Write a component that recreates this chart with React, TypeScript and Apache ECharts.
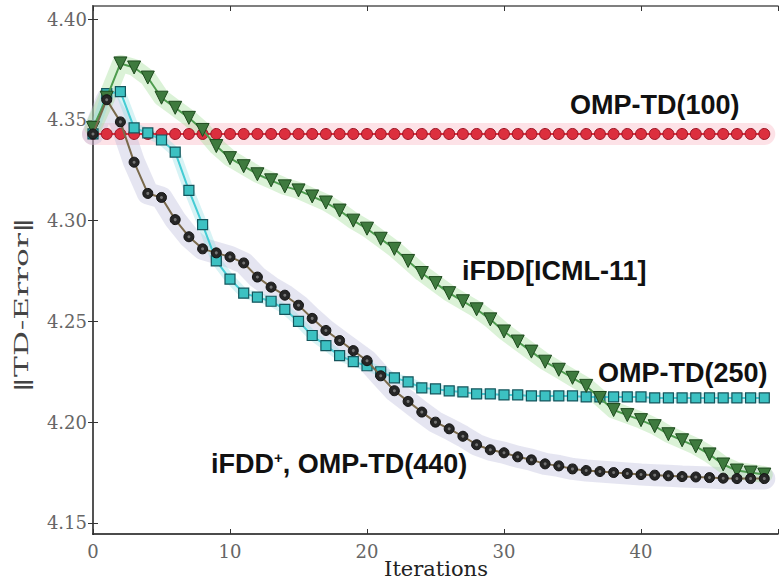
import React, { useEffect, useRef } from "react";
import * as echarts from "echarts";

const iterations: number[] = Array.from({ length: 50 }, (_, i) => i);

const ompTd100: number[] = [
  4.343, 4.343, 4.343, 4.343, 4.343, 4.343, 4.343, 4.343, 4.343, 4.343,
  4.343, 4.343, 4.343, 4.343, 4.343, 4.343, 4.343, 4.343, 4.343, 4.343,
  4.343, 4.343, 4.343, 4.343, 4.343, 4.343, 4.343, 4.343, 4.343, 4.343,
  4.343, 4.343, 4.343, 4.343, 4.343, 4.343, 4.343, 4.343, 4.343, 4.343,
  4.343, 4.343, 4.343, 4.343, 4.343, 4.343, 4.343, 4.343, 4.343, 4.343,
];

const ifddIcml: number[] = [
  4.346, 4.361, 4.378, 4.376, 4.371, 4.361, 4.356, 4.351, 4.345, 4.337,
  4.331, 4.327, 4.323, 4.32, 4.317, 4.315, 4.312, 4.309, 4.305, 4.3,
  4.296, 4.291, 4.286, 4.28, 4.274, 4.269, 4.264, 4.26, 4.256, 4.251,
  4.245, 4.24, 4.235, 4.23, 4.226, 4.222, 4.218, 4.212, 4.206, 4.2035,
  4.201, 4.198, 4.194, 4.191, 4.188, 4.184, 4.179, 4.176, 4.175, 4.174,
];

const ompTd250: number[] = [
  4.343, 4.363, 4.364, 4.346, 4.3435, 4.34, 4.334, 4.315, 4.298, 4.28,
  4.271, 4.264, 4.262, 4.26, 4.256, 4.25, 4.243, 4.238, 4.233, 4.23,
  4.228, 4.225, 4.222, 4.22, 4.217, 4.2165, 4.2155, 4.215, 4.214, 4.214,
  4.2135, 4.2135, 4.213, 4.213, 4.213, 4.213, 4.2125, 4.2125, 4.2125, 4.2125,
  4.2125, 4.212, 4.212, 4.212, 4.212, 4.212, 4.212, 4.212, 4.212, 4.212,
];

const ompTd440: number[] = [
  4.343, 4.36, 4.349, 4.329, 4.3135, 4.3115, 4.3005, 4.292, 4.286, 4.284,
  4.282, 4.279, 4.272, 4.267, 4.263, 4.258, 4.2515, 4.2455, 4.2405, 4.2355,
  4.2305, 4.223, 4.2156, 4.2103, 4.205, 4.2, 4.1967, 4.193, 4.1888, 4.1863,
  4.1848, 4.1828, 4.1813, 4.1793, 4.1783, 4.1768, 4.176, 4.1755, 4.175, 4.1745,
  4.174, 4.1737, 4.1734, 4.173, 4.1728, 4.1725, 4.1722, 4.172, 4.172, 4.172,
];

const yTicks: number[] = [4.15, 4.2, 4.25, 4.3, 4.35, 4.4];
const xTicks: number[] = [0, 10, 20, 30, 40];

const pts = (vals: number[]) => vals.map((v, i) => [iterations[i], v]);

export default function App() {
  const ref = useRef<HTMLDivElement>(null);
  useEffect(() => {
    document.body.style.margin = "0";
    if (!ref.current) return;
    const chart = echarts.init(ref.current, null, { renderer: "svg" });

    const band = (vals: number[], color: string, width: number) => ({
      type: "line",
      data: pts(vals),
      symbol: "none",
      silent: true,
      lineStyle: { color, width, cap: "round", join: "round" },
      z: 1,
    });

    const labelStyle = {
      fontFamily: "Liberation Sans, Arial, sans-serif",
      fontWeight: "bold",
      fontSize: 27,
      fill: "#111",
    };

    chart.setOption({
      animation: false,
      backgroundColor: "#ffffff",
      grid: { left: 93, right: 2, top: 6, bottom: 50, containLabel: false },
      xAxis: [
        {
          type: "value",
          min: 0,
          max: 50,
          interval: 10,
          position: "bottom",
          axisLine: { show: true, lineStyle: { color: "#111", width: 1.5 } },
          axisTick: { show: true, inside: true, length: 5, lineStyle: { color: "#333" } },
          axisLabel: {
            show: true,
            margin: 8,
            color: "#666",
            fontFamily: "DejaVu Serif, serif",
            fontSize: 18,
            customValues: xTicks,
          },
          splitLine: { show: false },
        },
        {
          type: "value",
          min: 0,
          max: 50,
          interval: 10,
          position: "top",
          axisLine: { show: true, lineStyle: { color: "#555", width: 1.5 } },
          axisTick: { show: true, inside: true, length: 5, lineStyle: { color: "#333" } },
          axisLabel: { show: false },
          splitLine: { show: false },
        },
      ],
      yAxis: [
        {
          type: "value",
          min: 4.1445,
          max: 4.4065,
          position: "left",
          axisLine: { show: true, lineStyle: { color: "#555", width: 2 } },
          axisTick: { show: true, inside: true, length: 5, customValues: yTicks, lineStyle: { color: "#333" } },
          axisLabel: {
            show: true,
            margin: 6,
            color: "#666",
            fontFamily: "DejaVu Serif, serif",
            fontSize: 18,
            customValues: yTicks,
            formatter: (v: number) => v.toFixed(2),
          },
          splitLine: { show: false },
        },
        {
          type: "value",
          min: 4.1445,
          max: 4.4065,
          position: "right",
          axisLine: { show: true, lineStyle: { color: "#555", width: 1.5 } },
          axisTick: { show: true, inside: true, length: 5, customValues: yTicks, lineStyle: { color: "#333" } },
          axisLabel: { show: false },
          splitLine: { show: false },
        },
      ],
      series: [
        band(ompTd100, "rgba(250,160,175,0.3)", 22),
        band(ompTd440, "rgba(180,180,215,0.35)", 22),
        band(ifddIcml, "rgba(160,220,150,0.38)", 17),
        band(ompTd250, "rgba(140,220,225,0.35)", 10),
        {
          name: "OMP-TD(100)",
          type: "line",
          data: pts(ompTd100),
          symbol: "circle",
          symbolSize: 11,
          lineStyle: { color: "#e03040", width: 2 },
          itemStyle: { color: "#dc2f3e", borderColor: "#9a1424", borderWidth: 1 },
          z: 3,
        },
        {
          name: "OMP-TD(250)",
          type: "line",
          data: pts(ompTd250),
          symbol: "rect",
          symbolSize: 10,
          lineStyle: { color: "#45ccd4", width: 2 },
          itemStyle: { color: "#3cc1c2", borderColor: "#14555c", borderWidth: 1.2 },
          z: 4,
        },
        {
          name: "iFDD[ICML-11]",
          type: "line",
          data: pts(ifddIcml),
          symbol: "triangle",
          symbolRotate: 180,
          symbolSize: 13,
          lineStyle: { color: "#4e9c4e", width: 2 },
          itemStyle: { color: "#3e7a3e", borderColor: "#1e4a1e", borderWidth: 1 },
          z: 5,
        },
        {
          name: "iFDD+, OMP-TD(440)",
          type: "line",
          data: pts(ompTd440),
          symbol: "circle",
          symbolSize: 10,
          lineStyle: { color: "#7a6a4c", width: 2 },
          itemStyle: { color: "#262626", borderColor: "#111", borderWidth: 1 },
          z: 6,
        },
        {
          name: "centers",
          type: "scatter",
          data: pts(ompTd440),
          symbol: "circle",
          symbolSize: 3,
          itemStyle: { color: "#8a8a8a" },
          silent: true,
          z: 7,
        },
      ],
      graphic: [
        { type: "text", left: 570, top: 91, style: { ...labelStyle, text: "OMP-TD(100)" }, z: 10 },
        { type: "text", left: 462, top: 257, style: { ...labelStyle, text: "iFDD[ICML-11]" }, z: 10 },
        { type: "text", left: 598, top: 359, style: { ...labelStyle, text: "OMP-TD(250)" }, z: 10 },
        {
          type: "text",
          left: 211,
          top: 450,
          z: 10,
          style: {
            text: "{a|iFDD}{s|+}{a|, OMP-TD(440)}",
            rich: {
              a: { fontFamily: "Liberation Sans, Arial, sans-serif", fontWeight: "bold", fontSize: 27, fill: "#111", color: "#111" },
              s: { fontFamily: "Liberation Sans, Arial, sans-serif", fontWeight: "bold", fontSize: 15, fill: "#111", color: "#111", verticalAlign: "top", padding: [0, 0, 12, 0] },
            },
          },
        },
        {
          type: "text",
          x: 436,
          y: 569,
          style: {
            text: "Iterations",
            fontFamily: "DejaVu Serif, serif",
            fontSize: 21,
            fill: "#222",
            align: "center",
            verticalAlign: "middle",
          },
        },
        {
          type: "text",
          x: 21,
          y: 305,
          rotation: Math.PI / 2,
          scaleX: 1.65,
          style: {
            text: "\u2016TD-Error\u2016",
            fontFamily: "DejaVu Serif, serif",
            fontSize: 19,
            fill: "#444",
            align: "center",
            verticalAlign: "middle",
          },
        },
      ],
    });
    return () => chart.dispose();
  }, []);
  return <div ref={ref} style={{ width: 780, height: 584 }} />;
}
